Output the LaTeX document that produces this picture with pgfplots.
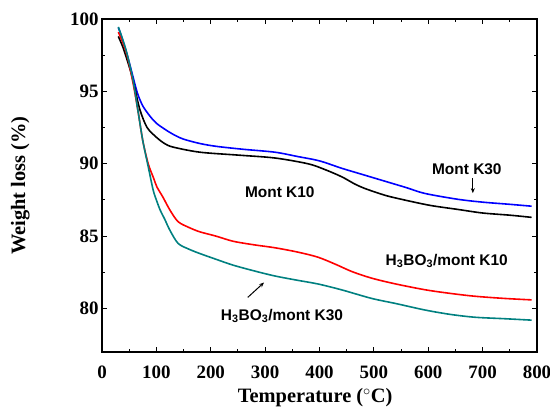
\documentclass[border=0pt]{standalone}
\usepackage{fontspec}
\setmainfont{Liberation Serif}
\newfontfamily\annfont{Liberation Sans}
\usepackage{pgfplots}
\pgfplotsset{compat=1.18}
\usetikzlibrary{arrows.meta}
\definecolor{cteal}{RGB}{0,128,128}
\begin{document}
\begin{tikzpicture}
\path[use as bounding box] (-102bp,-65bp) rectangle (448bp,352bp);
\begin{axis}[
  at={(0,0)}, anchor=south west,
  scale only axis, width=435bp, height=333bp,
  xmin=0, xmax=800, ymin=77, ymax=100,
  xtick={0,100,...,800}, ytick={80,85,90,95,100},
  minor x tick num=1, minor y tick num=1,
  tick align=inside,
  major tick length=5bp, minor tick length=3bp,
  axis line style={line width=1.2bp},
  every tick/.style={line width=1bp, black},
  /pgf/number format/assume math mode=true,
  ticklabel style={font=\fontsize{19}{19}\selectfont\bfseries},
  xticklabel style={yshift=-10bp},
  xlabel={Temperature ($^\circ$C)},
  ylabel={Weight loss (\%)},
  xlabel style={font=\fontsize{20.5}{22}\selectfont\bfseries, at={(axis description cs:0.49,-0.138)}, anchor=center},
  ylabel style={font=\fontsize{20.5}{22}\selectfont\bfseries, at={(axis description cs:-0.188,0.5)}, anchor=center},
  clip=false,
]
% Mont K30 (blue)
\addplot[blue, line width=1.6bp, smooth] coordinates {
(30,99.4) (35,98.9) (45,97.7) (55,96.3) (65,94.9) (75,94.0) (88,93.3) (100,92.8)
(119,92.3) (135,91.95) (150,91.7) (180,91.4) (211,91.2) (260,91.0) (318,90.8)
(360,90.5) (400,90.2) (440,89.7) (471,89.35) (520,88.8) (560,88.35) (594,87.95)
(654,87.55) (700,87.35) (750,87.2) (790,87.07)
};
% Mont K10 (black)
\addplot[black, line width=1.6bp, smooth] coordinates {
(30,98.8) (38,98.1) (46,97.2) (54,96.2) (61,95.1) (70,93.7) (83,92.5) (101,91.8)
(115,91.4) (131,91.15) (180,90.8) (250,90.6) (318,90.4) (379,90.0) (410,89.6)
(441,89.1) (465,88.6) (483,88.3) (510,87.95) (533,87.7) (600,87.15) (654,86.85)
(700,86.6) (750,86.45) (790,86.3)
};
% H3BO3/mont K10 (red)
\addplot[red, line width=1.6bp, smooth] coordinates {
(30,99.1) (40,98.2) (48,97.2) (57,95.6) (66,93.7) (75,91.6) (85,90.0) (95,89.0)
(101,88.4) (112,87.7) (125,86.8) (140,86.0) (160,85.6) (180,85.3) (210,85.0)
(241,84.65) (280,84.4) (318,84.2) (360,83.9) (397,83.55) (430,83.05) (460,82.55)
(496,82.1) (540,81.7) (594,81.3) (640,81.05) (686,80.85) (740,80.7) (790,80.6)
};
% H3BO3/mont K30 (teal)
\addplot[cteal, line width=1.6bp, smooth] coordinates {
(30,99.45) (38,98.6) (46,97.6) (57,95.8) (66,93.7) (75,91.6) (85,89.8) (94,88.2)
(100,87.5) (107,86.8) (115,86.2) (125,85.4) (140,84.5) (160,84.1) (180,83.8)
(210,83.4) (241,83.0) (280,82.6) (318,82.25) (360,81.95) (397,81.7) (440,81.3)
(496,80.7) (540,80.35) (594,79.9) (640,79.6) (686,79.4) (740,79.3) (790,79.2)
};
\node[font=\annfont\fontsize{15.5}{17}\selectfont\bfseries] at (axis cs:671,89.63) {Mont K30};
\draw[-{Stealth[length=5bp,width=4bp]}, line width=1bp] (axis cs:682,89.0) -- (axis cs:682,87.97);
\node[font=\annfont\fontsize{15.5}{17}\selectfont\bfseries] at (axis cs:327,88.04) {Mont K10};
\node[font=\annfont\fontsize{15.5}{17}\selectfont\bfseries] at (axis cs:634,83.3) {H\textsubscript{3}BO\textsubscript{3}/mont K10};
\node[font=\annfont\fontsize{15.5}{17}\selectfont\bfseries] at (axis cs:331,79.5) {H\textsubscript{3}BO\textsubscript{3}/mont K30};
\draw[-{Stealth[length=5bp,width=4bp]}, line width=1bp] (axis cs:268,80.77) -- (axis cs:298,81.8);
\end{axis}
\end{tikzpicture}
\end{document}
